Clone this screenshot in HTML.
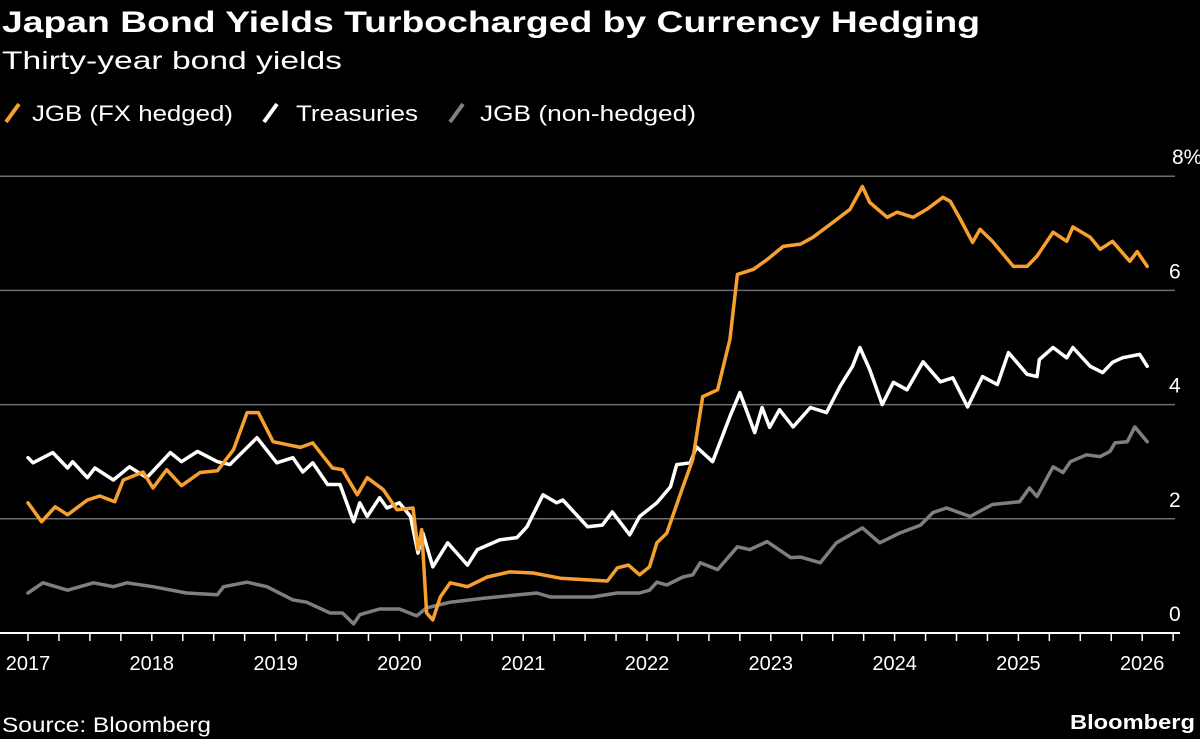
<!DOCTYPE html>
<html><head><meta charset="utf-8"><style>
html,body{margin:0;padding:0;background:#000;}
svg{display:block;font-family:"Liberation Sans",sans-serif;}
</style></head><body>
<svg id="chart" width="1200" height="739" viewBox="0 0 1200 739">
<rect width="1200" height="739" fill="#000"/>
<text x="2" y="32" fill="#fff" font-weight="bold" font-size="30" textLength="978" lengthAdjust="spacingAndGlyphs">Japan Bond Yields Turbocharged by Currency Hedging</text>
<text x="2" y="69" fill="#fff" font-size="25" textLength="340" lengthAdjust="spacingAndGlyphs">Thirty-year bond yields</text>
<g>
<g><line x1="6" y1="122" x2="19" y2="104" stroke="#f7a030" stroke-width="4"/><text x="32" y="121" fill="#fff" font-size="22" textLength="201" lengthAdjust="spacingAndGlyphs">JGB (FX hedged)</text></g>
<g><line x1="264" y1="122" x2="277" y2="104" stroke="#fff" stroke-width="4"/><text x="296" y="121" fill="#fff" font-size="22" textLength="122" lengthAdjust="spacingAndGlyphs">Treasuries</text></g>
<g><line x1="450" y1="122" x2="463" y2="104" stroke="#808080" stroke-width="4"/><text x="480" y="121" fill="#fff" font-size="22" textLength="216" lengthAdjust="spacingAndGlyphs">JGB (non-hedged)</text></g>
</g>
<g id="grid"></g>
<g id="yaxis"></g>
<g id="xaxis"></g>
<g id="series"></g>
<text x="2" y="732" fill="#fff" font-size="21" textLength="209" lengthAdjust="spacingAndGlyphs">Source: Bloomberg</text>
<text x="1195" y="729" fill="#fff" font-size="20" font-weight="bold" text-anchor="end" textLength="125" lengthAdjust="spacingAndGlyphs">Bloomberg</text>
</svg>
<script>
const yTicks = [0, 2, 4, 6, 8];
const yTickLabels = ["0", "2", "4", "6", "8%"];
const xYears = [2017, 2018, 2019, 2020, 2021, 2022, 2023, 2024, 2025, 2026];

const hedgedDates = [2017.00,2017.11,2017.22,2017.32,2017.48,2017.58,2017.70,2017.77,2017.93,2018.01,2018.12,2018.24,2018.39,2018.53,2018.66,2018.77,2018.86,2018.98,2019.20,2019.30,2019.46,2019.54,2019.66,2019.74,2019.87,2019.98,2020.11,2020.15,2020.18,2020.22,2020.27,2020.33,2020.41,2020.55,2020.71,2020.89,2021.08,2021.30,2021.52,2021.68,2021.76,2021.85,2021.94,2022.02,2022.08,2022.16,2022.29,2022.37,2022.45,2022.57,2022.67,2022.73,2022.86,2022.97,2023.10,2023.24,2023.34,2023.50,2023.64,2023.74,2023.80,2023.94,2024.02,2024.15,2024.26,2024.39,2024.45,2024.53,2024.63,2024.69,2024.79,2024.96,2025.07,2025.15,2025.28,2025.39,2025.44,2025.58,2025.66,2025.76,2025.90,2025.96,2026.04];
const hedgedValues = [2.28,1.95,2.21,2.07,2.33,2.40,2.30,2.68,2.82,2.54,2.86,2.58,2.81,2.84,3.21,3.86,3.86,3.35,3.25,3.33,2.89,2.86,2.42,2.72,2.51,2.16,2.19,1.46,1.81,0.35,0.23,0.63,0.88,0.81,0.98,1.07,1.05,0.96,0.93,0.91,1.14,1.19,1.02,1.16,1.58,1.75,2.56,3.04,4.14,4.26,5.14,6.28,6.37,6.54,6.77,6.81,6.93,7.19,7.42,7.82,7.54,7.28,7.37,7.28,7.42,7.63,7.56,7.25,6.84,7.07,6.86,6.42,6.42,6.60,7.02,6.86,7.11,6.93,6.72,6.86,6.51,6.68,6.42];

const tsyDates = [2017.00,2017.04,2017.20,2017.32,2017.36,2017.48,2017.54,2017.69,2017.82,2017.96,2018.15,2018.24,2018.37,2018.53,2018.63,2018.85,2019.01,2019.14,2019.22,2019.30,2019.42,2019.52,2019.63,2019.68,2019.74,2019.84,2019.90,2020.00,2020.09,2020.15,2020.19,2020.27,2020.39,2020.55,2020.63,2020.81,2020.95,2021.03,2021.16,2021.27,2021.32,2021.52,2021.64,2021.72,2021.86,2021.94,2022.08,2022.19,2022.24,2022.35,2022.40,2022.53,2022.67,2022.75,2022.87,2022.93,2022.99,2023.07,2023.18,2023.32,2023.45,2023.56,2023.66,2023.72,2023.80,2023.90,2023.99,2024.10,2024.23,2024.37,2024.47,2024.59,2024.71,2024.83,2024.92,2025.07,2025.15,2025.17,2025.28,2025.39,2025.44,2025.58,2025.68,2025.76,2025.84,2025.98,2026.04];
const tsyValues = [3.07,2.98,3.16,2.89,3.00,2.72,2.89,2.68,2.91,2.72,3.16,3.00,3.18,3.00,2.95,3.42,2.98,3.07,2.82,2.98,2.60,2.60,1.95,2.28,2.04,2.37,2.19,2.28,2.04,1.40,1.75,1.16,1.58,1.19,1.46,1.63,1.67,1.86,2.42,2.28,2.33,1.86,1.89,2.12,1.72,2.04,2.28,2.56,2.95,2.98,3.26,3.00,3.79,4.21,3.51,3.95,3.60,3.91,3.61,3.95,3.86,4.32,4.67,5.00,4.61,4.00,4.39,4.26,4.75,4.40,4.47,3.96,4.49,4.35,4.91,4.53,4.49,4.79,5.00,4.82,5.00,4.67,4.56,4.74,4.82,4.88,4.67];

const jgbDates = [2017.00,2017.12,2017.32,2017.53,2017.69,2017.80,2018.01,2018.28,2018.53,2018.58,2018.77,2018.93,2019.14,2019.25,2019.44,2019.54,2019.63,2019.68,2019.84,2020.00,2020.14,2020.22,2020.41,2020.68,2021.11,2021.22,2021.56,2021.76,2021.94,2022.02,2022.08,2022.16,2022.29,2022.37,2022.43,2022.57,2022.73,2022.83,2022.97,2023.16,2023.24,2023.40,2023.53,2023.74,2023.88,2024.04,2024.21,2024.31,2024.42,2024.61,2024.79,2025.01,2025.09,2025.15,2025.28,2025.36,2025.42,2025.55,2025.66,2025.74,2025.78,2025.88,2025.94,2026.04];
const jgbValues = [0.70,0.88,0.75,0.88,0.81,0.88,0.81,0.70,0.67,0.81,0.89,0.81,0.58,0.54,0.35,0.35,0.16,0.32,0.42,0.42,0.30,0.44,0.54,0.61,0.70,0.63,0.63,0.70,0.70,0.75,0.89,0.84,0.98,1.02,1.23,1.11,1.51,1.46,1.60,1.32,1.33,1.23,1.58,1.84,1.58,1.75,1.89,2.11,2.19,2.04,2.25,2.30,2.54,2.39,2.91,2.81,3.00,3.12,3.09,3.18,3.33,3.35,3.61,3.35];

const NS = "http://www.w3.org/2000/svg";
const X0 = 28, PXY = 123.8, Y0 = 633, PXV = 57.1;
function xScale(t){ return X0 + (t - 2017) * PXY; }
function yScale(v){ return Y0 - v * PXV; }
function mk(tag, attrs){ const e = document.createElementNS(NS, tag); for (const k in attrs) e.setAttribute(k, attrs[k]); return e; }

const grid = document.getElementById('grid');
const yaxis = document.getElementById('yaxis');
yTicks.forEach((v, i) => {
  if (v !== 0) {
    const l = mk('line', {x1: 0, x2: 1175, y1: yScale(v), y2: yScale(v), stroke: '#6e6e6e', 'stroke-width': 1.5});
    
    
    grid.appendChild(l);
  }
  const t = mk('text', {x: v === 8 ? 1172 : 1169, y: yScale(v) - 12, fill: '#fff', 'font-size': 21});
  t.textContent = yTickLabels[i];
  
  
  yaxis.appendChild(t);
});

const xaxis = document.getElementById('xaxis');
const base = mk('line', {x1: 0, x2: 1180, y1: Y0, y2: Y0, stroke: '#fff', 'stroke-width': 2});


xaxis.appendChild(base);
for (let q = 0; q <= 37; q++) {
  const t = 2017 + q / 4;
  const x = xScale(t);
  if (x > 1180) break;
  const tk = mk('line', {x1: x, x2: x, y1: Y0, y2: Y0 + 8, stroke: '#fff', 'stroke-width': 1.5});
  
  
  xaxis.appendChild(tk);
}
xYears.forEach(yr => {
  const t = mk('text', {x: xScale(yr), y: 670, fill: '#fff', 'font-size': 20, 'text-anchor': 'middle'});
  t.textContent = String(yr);
  
  
  xaxis.appendChild(t);
});

const series = document.getElementById('series');
function drawLine(dates, vals, color, name){
  const d = dates.map((t, i) => (i ? 'L' : 'M') + xScale(t).toFixed(1) + ',' + yScale(vals[i]).toFixed(1)).join('');
  const p = mk('path', {d: d, fill: 'none', stroke: color, 'stroke-width': 3.5, 'stroke-linejoin': 'round', 'stroke-linecap': 'round'});
  
  
  series.appendChild(p);
}
drawLine(jgbDates, jgbValues, '#7f7f7f', 'line-jgb-non-hedged');
drawLine(tsyDates, tsyValues, '#ffffff', 'line-treasuries');
drawLine(hedgedDates, hedgedValues, '#f7a030', 'line-jgb-fx-hedged');
</script>
</body></html>
